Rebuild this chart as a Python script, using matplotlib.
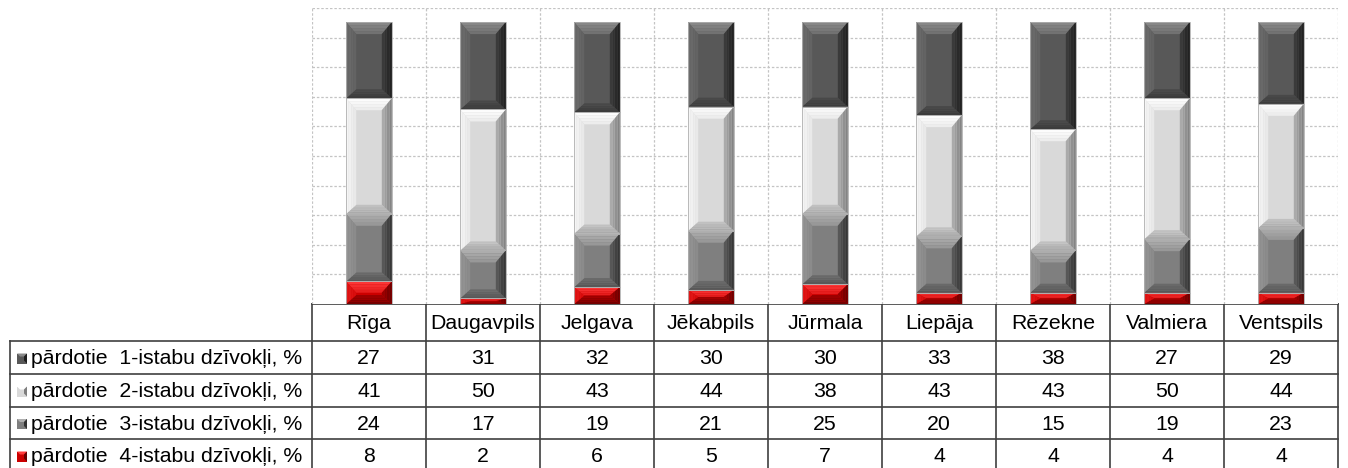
import numpy as np
import matplotlib
matplotlib.use("Agg")
import matplotlib.pyplot as plt
from matplotlib.patches import Polygon, Rectangle
from matplotlib.colors import to_rgb

plt.rcParams['font.family'] = ['Liberation Sans', 'DejaVu Sans']

cities = ['Rīga', 'Daugavpils', 'Jelgava', 'Jēkabpils', 'Jūrmala',
          'Liepāja', 'Rēzekne', 'Valmiera', 'Ventspils']
rooms1 = [27, 31, 32, 30, 30, 33, 38, 27, 29]
rooms2 = [41, 50, 43, 44, 38, 43, 43, 50, 44]
rooms3 = [24, 17, 19, 21, 25, 20, 15, 19, 23]
rooms4 = [8, 2, 6, 5, 7, 4, 4, 4, 4]
labels = ['pārdotie  1-istabu dzīvokļi, %', 'pārdotie  2-istabu dzīvokļi, %',
          'pārdotie  3-istabu dzīvokļi, %', 'pārdotie  4-istabu dzīvokļi, %']

# face, top, left, right, bottom
styles = {
    'r1': ('#585858', '#8a8a8a', '#6e6e6e', '#1e1e1e', '#3a3a3a'),
    'r2': ('#d9d9d9', '#ffffff', '#f7f7f7', '#7e7e7e', '#a8a8a8'),
    'r3': ('#7f7f7f', '#b0b0b0', '#969696', '#323232', '#555555'),
    'r4': ('#cc0000', '#ff3a3a', '#e41a1a', '#660000', '#700000'),
}

W, H = 1348, 468
fig = plt.figure(figsize=(W / 100, H / 100), dpi=100)
L, R, T, B = 312, 1338, 8, 304
ax = fig.add_axes([L / W, 1 - B / H, (R - L) / W, (B - T) / H])
ymax = 105
ax.set_xlim(-0.5, len(cities) - 0.5)
ax.set_ylim(0, ymax)

grid_kw = dict(color='#c4c4c4', linewidth=0.9, linestyle=(0, (2, 1.5)), zorder=0)
for y in np.linspace(0, ymax, 11)[1:]:
    ax.axhline(y, **grid_kw)
for x in np.arange(len(cities) + 1) - 0.5:
    ax.axvline(x, **grid_kw)
for s in ax.spines.values():
    s.set_visible(False)
ax.set_xticks([])
ax.set_yticks([])

px_x = (R - L) / len(cities)
px_y = (B - T) / ymax
bw = 0.4


def mix(c1, c2, t):
    a, b = np.array(to_rgb(c1)), np.array(to_rgb(c2))
    return tuple(a + (b - a) * t)


def bevel_bar(x, bottom, h, st):
    face, top, left, right, bot = st
    x0, x1 = x - bw / 2, x + bw / 2
    y0, y1 = bottom, bottom + h
    bx = min(10 / px_x, bw / 2)
    bt = min(12 / px_y, h / 2)
    bb = min(9 / px_y, h / 2)
    ax.add_patch(Rectangle((x0, y0), bw, h, facecolor=face, edgecolor='none', zorder=2))
    n = 4
    for k in range(n):
        t0, t1 = k / n, (k + 1) / n
        tc = (k + 0.5) / n * 0.55
        ax.add_patch(Polygon([(x0 + bx * t0, y1 - bt * t0), (x1 - bx * t0, y1 - bt * t0),
                              (x1 - bx * t1, y1 - bt * t1), (x0 + bx * t1, y1 - bt * t1)],
                             facecolor=mix(top, face, tc), edgecolor='none', zorder=3))
        ax.add_patch(Polygon([(x0 + bx * t0, y0 + bb * t0), (x1 - bx * t0, y0 + bb * t0),
                              (x1 - bx * t1, y0 + bb * t1), (x0 + bx * t1, y0 + bb * t1)],
                             facecolor=mix(bot, face, tc), edgecolor='none', zorder=3))
        ax.add_patch(Polygon([(x0 + bx * t0, y0 + bb * t0), (x0 + bx * t1, y0 + bb * t1),
                              (x0 + bx * t1, y1 - bt * t1), (x0 + bx * t0, y1 - bt * t0)],
                             facecolor=mix(left, face, tc), edgecolor='none', zorder=3))
        ax.add_patch(Polygon([(x1 - bx * t0, y0 + bb * t0), (x1 - bx * t1, y0 + bb * t1),
                              (x1 - bx * t1, y1 - bt * t1), (x1 - bx * t0, y1 - bt * t0)],
                             facecolor=mix(right, face, tc), edgecolor='none', zorder=3))
    ax.add_patch(Rectangle((x0, y0), bw, h, facecolor='none', edgecolor='#b0b0b0',
                           linewidth=0.6, zorder=4))


series = [(rooms4, styles['r4']), (rooms3, styles['r3']),
          (rooms2, styles['r2']), (rooms1, styles['r1'])]
base = np.zeros(len(cities))
for vals, st in series:
    for i, v in enumerate(vals):
        bevel_bar(i, base[i], v, st)
    base += np.array(vals)

# data table below the chart, in pixel coordinates
tax = fig.add_axes([0, 0, 1, 1], zorder=-1)
tax.set_xlim(0, W)
tax.set_ylim(H, 0)
tax.axis('off')

line_c = '#404040'
lw = 1.2
row_y = [304, 341, 374, 407, 439, 472]
col_x = [L + i * px_x for i in range(len(cities) + 1)]
label_left = 10

tax.plot([L, R], [row_y[0], row_y[0]], color=line_c, lw=lw)
for y in row_y[1:]:
    tax.plot([label_left, R], [y, y], color=line_c, lw=lw)
for x in col_x:
    tax.plot([x, x], [row_y[0], row_y[-1]], color=line_c, lw=lw)
tax.plot([label_left, label_left], [row_y[1], row_y[-1]], color=line_c, lw=lw)

fs = 15.3
for i, c in enumerate(cities):
    tax.text((col_x[i] + col_x[i + 1]) / 2, (row_y[0] + row_y[1]) / 2 + 1, c,
             ha='center', va='center', fontsize=fs, color='black')

table_rows = [(rooms1, styles['r1']), (rooms2, styles['r2']),
              (rooms3, styles['r3']), (rooms4, styles['r4'])]
for r, (vals, st) in enumerate(table_rows):
    yc = (row_y[r + 1] + row_y[r + 2]) / 2 + 1
    tax.add_patch(Rectangle((17, yc - 5), 10, 10, facecolor=st[0], edgecolor='none'))
    tax.add_patch(Polygon([(17, yc - 5), (27, yc - 5), (24, yc - 2), (20, yc - 2)],
                          facecolor=st[1], edgecolor='none'))
    tax.add_patch(Polygon([(27, yc - 5), (27, yc + 5), (24, yc + 2), (24, yc - 2)],
                          facecolor=st[3], edgecolor='none'))
    tax.text(31, yc, labels[r], ha='left', va='center', fontsize=fs, color='black')
    for i, v in enumerate(vals):
        tax.text((col_x[i] + col_x[i + 1]) / 2, yc, str(v), ha='center', va='center',
                 fontsize=fs, color='black')

fig.savefig('out.png', dpi=100)
